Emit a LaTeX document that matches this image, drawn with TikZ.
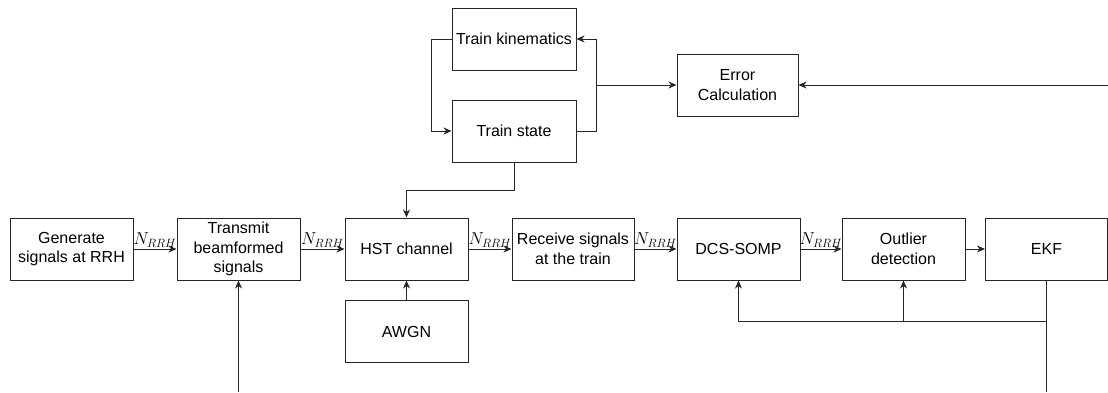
\documentclass[tikz,border=0pt]{standalone}
\usepackage{fontspec}
\setmainfont{Liberation Sans}
\usetikzlibrary{arrows.meta,calc}
\begin{document}
\begin{tikzpicture}[x=1pt,y=-1pt,
  every node/.style={font=\fontsize{16}{19.5}\selectfont},
  blk/.style={draw=black!85, line width=1pt, inner sep=0pt, minimum width=123pt, minimum height=62pt, align=center},
  arr/.style={draw=black!85, line width=1pt, -{Stealth[length=8pt,width=7pt,inset=2.5pt]}},
  ln/.style={draw=black!85, line width=1pt},
  lbl/.style={anchor=base, yshift=4.5pt, inner sep=0pt, font=\fontsize{16.5}{19}\selectfont}
]
\useasboundingbox (0,0) rectangle (1108,392);
% top loop
\node[blk, minimum width=124pt] (kin) at (514,39) {Train kinematics};
\node[blk, minimum width=124pt] (state) at (514,131) {Train state};
\node[blk, minimum width=121pt] (err) at (737.5,85) {Error\\Calculation};
% main row
\node[blk] (gen) at (71.5,249) {Generate\\signals at RRH};
\node[blk] (tx) at (238.5,249) {Transmit\\beamformed\\signals};
\node[blk] (hst) at (406.5,249) {HST channel};
\node[blk] (awgn) at (406.5,331.5) {AWGN};
\node[blk, minimum width=122pt] (rx) at (573,249) {Receive signals\\at the train};
\node[blk] (dcs) at (738.5,249) {DCS-SOMP};
\node[blk] (out) at (903.5,249) {Outlier\\detection};
\node[blk, minimum width=122pt] (ekf) at (1046.5,249) {EKF};
% coordinates
\coordinate (jn) at (596,85);
\coordinate (rin) at (1108,85);
\coordinate (txin) at (238.5,392);
\coordinate (ekfout) at (1046.5,392);
% top loop connectors
\draw[arr] (kin.west) -- ++(-20,0) |- (state.west);
\draw[arr] (state.east) -- ++(20,0) |- (kin.east);
\draw[arr] (jn) -- (err.west);
\draw[arr] (rin) -- (err.east);
\draw[arr] (state.south) -- ++(0,28) -| (hst.north);
% main row connectors
\draw[arr] (gen.east) -- node[lbl]{$N_{RRH}$} (tx.west);
\draw[arr] (tx.east) -- node[lbl]{$N_{RRH}$} (hst.west);
\draw[arr] (hst.east) -- node[lbl]{$N_{RRH}$} (rx.west);
\draw[arr] (rx.east) -- node[lbl]{$N_{RRH}$} (dcs.west);
\draw[arr] (dcs.east) -- node[lbl]{$N_{RRH}$} (out.west);
\draw[arr] (out.east) -- (ekf.west);
\draw[arr] (awgn.north) -- (hst.south);
\draw[arr] (txin) -- (tx.south);
% EKF feedback
\draw[ln] (ekf.south) -- (ekfout);
\draw[arr] (ekf.south) -- ++(0,41) -| (dcs.south);
\draw[arr] (ekf.south) -- ++(0,41) -| (out.south);
\end{tikzpicture}
\end{document}
